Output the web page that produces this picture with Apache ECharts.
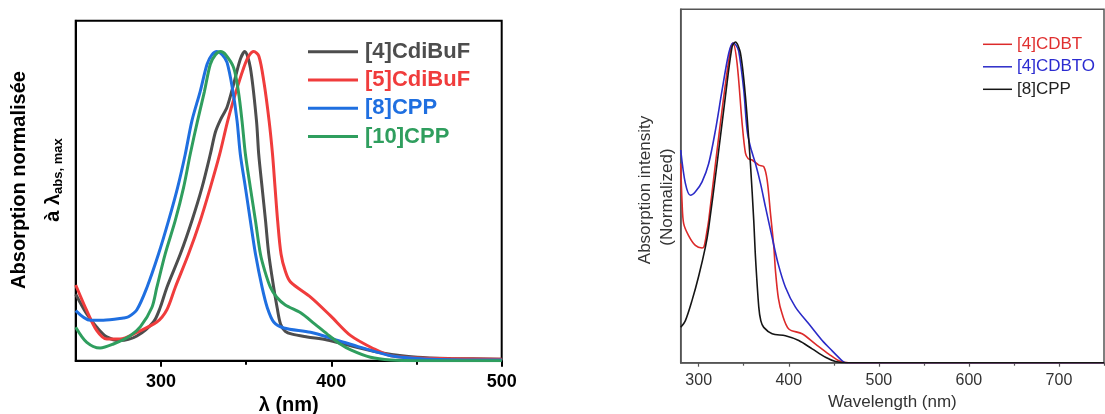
<!DOCTYPE html>
<html><head><meta charset="utf-8">
<script src="https://cdn.jsdelivr.net/npm/echarts@6/dist/echarts.min.js"></script>
<style>html,body{margin:0;padding:0;background:#fff}#c{width:1105px;height:414px}</style>
</head><body><div id="c"></div>
<script>
// ---- Left panel data (wavelength nm, normalized absorption) ----
const leftNames = ['[4]CdiBuF', '[5]CdiBuF', '[8]CPP', '[10]CPP'];
const leftTicks = [300, 400, 500];
const leftMinorTicks = [350, 450];
const cdibuf4 = [[250,0.215],[256.5,0.151],[262.4,0.108],[268.2,0.077],[276,0.065],[285.9,0.08],[295.6,0.125],[299.6,0.172],[303.5,0.237],[311.4,0.345],[318.2,0.453],[324.1,0.56],[329,0.668],[332,0.74],[335,0.78],[338.8,0.82],[342.7,0.895],[346.6,0.975],[349.2,1.0],[352.5,0.948],[356.1,0.776],[357.4,0.668],[359.4,0.56],[361.4,0.453],[363.3,0.345],[366.2,0.237],[368.2,0.172],[370.2,0.119],[373,0.095],[377,0.086],[385.9,0.077],[397.6,0.067],[411.4,0.048],[430.9,0.024],[450.6,0.011],[470,0.007],[500,0.005]];
const cdibuf5 = [[250,0.245],[256.5,0.162],[262.4,0.097],[268.2,0.07],[276,0.07],[285.9,0.092],[297.6,0.125],[303.5,0.165],[308.4,0.237],[316.2,0.345],[323.1,0.453],[329,0.56],[334.5,0.668],[339.2,0.776],[343.5,0.86],[348.6,0.948],[351.5,0.985],[354.5,1.0],[357.5,0.985],[360.5,0.9],[363.5,0.776],[365.5,0.668],[367,0.56],[368.5,0.453],[370.5,0.345],[373,0.29],[376,0.255],[388,0.205],[399.6,0.145],[411.4,0.081],[425.1,0.038],[435,0.016],[450.6,0.009],[500,0.005]];
const cpp8 = [[250,0.162],[258.5,0.131],[266.2,0.131],[278,0.138],[281,0.142],[285.9,0.165],[291.8,0.237],[298.6,0.345],[304.5,0.453],[309.8,0.56],[314.3,0.668],[318.2,0.776],[323,0.87],[327.1,0.959],[330,0.99],[332.9,1.0],[336,0.99],[338.8,0.965],[342,0.88],[344.7,0.776],[346.6,0.668],[349.6,0.56],[352.5,0.453],[355.5,0.345],[359.4,0.237],[362.4,0.172],[366.2,0.125],[372.1,0.106],[387.8,0.092],[401.5,0.07],[417.3,0.043],[435,0.016],[450.6,0.007],[470,0.003],[500,0.002]];
const cpp10 = [[250,0.108],[256.5,0.059],[264.3,0.041],[272.1,0.054],[282,0.081],[288,0.11],[294.7,0.172],[297.6,0.237],[302.5,0.345],[308.4,0.453],[313.3,0.56],[317.2,0.668],[321.5,0.776],[325.5,0.87],[329,0.959],[332,0.99],[335,1.0],[338,0.99],[342.7,0.948],[345.5,0.87],[347.6,0.776],[349.6,0.668],[352.5,0.56],[355.5,0.453],[358.4,0.345],[361,0.29],[364.3,0.237],[368,0.205],[373,0.18],[382,0.155],[390,0.12],[397.6,0.086],[405,0.055],[411.4,0.035],[423,0.011],[435,0.002],[450,0.0],[500,0.0]];

// ---- Right panel data ----
const rightNames = ['[4]CDBT', '[4]CDBTO', '[8]CPP'];
const rightTicks = [300, 400, 500, 600, 700];
const rightMinorTicks = [350, 450, 550, 650, 750];
const cdbt4 = [[280,0.62],[281.5,0.5],[283.3,0.433],[288.9,0.395],[296.3,0.365],[303.7,0.357],[306,0.362],[309.3,0.412],[311.1,0.443],[318.6,0.62],[327.8,0.828],[335.2,0.974],[338,0.995],[342.6,0.932],[348.2,0.745],[351.9,0.652],[355,0.635],[359.3,0.631],[366.7,0.615],[372.2,0.61],[376,0.568],[379.7,0.464],[383.4,0.36],[385.2,0.287],[388.5,0.2],[392.6,0.152],[400,0.105],[414.8,0.09],[429.7,0.058],[444.4,0.027],[455.6,0.006],[466.7,0.0],[750,0.0]];
const cdbto4 = [[280,0.662],[285.2,0.558],[290.8,0.521],[296.3,0.532],[303.7,0.563],[311.1,0.62],[318.6,0.724],[326,0.849],[333.4,0.964],[338,0.995],[341,0.99],[344.4,0.97],[350,0.849],[353.7,0.724],[357.4,0.672],[363,0.62],[368.6,0.558],[374.1,0.485],[381.5,0.39],[388,0.31],[396.3,0.235],[407.4,0.173],[422.2,0.121],[437.1,0.069],[448.2,0.037],[459.3,0.006],[463,0.0],[750,0.0]];
const cpp8b = [[280,0.11],[285.2,0.131],[292.6,0.194],[300,0.27],[307.4,0.36],[311.1,0.42],[320.4,0.62],[329.6,0.828],[337.1,0.984],[340.8,0.998],[346.3,0.964],[351.9,0.828],[357.4,0.62],[361.1,0.443],[363,0.33],[366.7,0.173],[369,0.13],[372.2,0.11],[381.5,0.09],[396.3,0.084],[411.1,0.069],[426,0.043],[440.8,0.017],[451.9,0.004],[465,0.0],[750,0.0]];

const leftData = [cdibuf4, cdibuf5, cpp8, cpp10];
const leftColors = ['#4d4d4d', '#f03c3c', '#1f6fe0', '#2f9e5e'];
const rightData = [cdbt4, cdbto4, cpp8b];
const rightColors = ['#dc2a2a', '#2b2bc8', '#151515'];
const rightTextColors = ['#e03030', '#2b2bd0', '#222'];

const FF = '"Liberation Sans", Arial, sans-serif';
const chart = echarts.init(document.getElementById('c'), null, {renderer: 'canvas'});

const series = [];
leftData.forEach((d, i) => series.push({
  name: leftNames[i], type: 'line', xAxisIndex: 0, yAxisIndex: 0, data: d,
  showSymbol: false, symbol: 'none', smooth: 0.3,
  lineStyle: {width: 3, color: leftColors[i]}, itemStyle: {color: leftColors[i]}
}));
rightData.forEach((d, i) => series.push({
  name: rightNames[i], type: 'line', xAxisIndex: 2, yAxisIndex: 1, data: d,
  showSymbol: false, symbol: 'none', smooth: 0.3,
  lineStyle: {width: 1.6, color: rightColors[i]}, itemStyle: {color: rightColors[i]}
}));

chart.setOption({
  animation: false,
  grid: [
    {left: 75.7, top: 20.7, right: 603.3, bottom: 53.3, outerBoundsMode: 'none', containLabel: false,
     show: true, borderColor: '#000', borderWidth: 2, backgroundColor: 'transparent'},
    {left: 680.7, top: 9.3, right: 1, bottom: 51.3, outerBoundsMode: 'none', containLabel: false,
     show: true, borderColor: '#555', borderWidth: 1.5, backgroundColor: 'transparent'}
  ],
  xAxis: [
    {type: 'value', gridIndex: 0, position: 'bottom', min: 250, max: 500, interval: 50,
     name: 'λ (nm)', nameLocation: 'middle', nameGap: 32,
     nameTextStyle: {fontFamily: FF, fontWeight: 'bold', fontSize: 20, color: '#000', verticalAlign: 'top'},
     axisLine: {show: true, onZero: false, lineStyle: {color: '#000', width: 2}},
     axisTick: {show: true, inside: false, length: 6, lineStyle: {color: '#000', width: 2}, customValues: leftTicks},
     axisLabel: {show: true, margin: 12, fontFamily: FF, fontWeight: 'bold', fontSize: 18, color: '#000', customValues: leftTicks},
     splitLine: {show: false}},
    {type: 'value', gridIndex: 0, position: 'bottom', offset: 0, min: 250, max: 500, interval: 50,
     axisLine: {show: false, onZero: false},
     axisTick: {show: true, inside: false, length: 4, lineStyle: {color: '#000', width: 2}, customValues: leftMinorTicks},
     axisLabel: {show: false}, splitLine: {show: false}},
    {type: 'value', gridIndex: 1, position: 'bottom', min: 280, max: 750, interval: 10,
     name: 'Wavelength (nm)', nameLocation: 'middle', nameGap: 29,
     nameTextStyle: {fontFamily: FF, fontSize: 17, color: '#333', verticalAlign: 'top'},
     axisLine: {show: true, onZero: false, lineStyle: {color: '#555', width: 1.5}},
     axisTick: {show: true, inside: false, length: 4, lineStyle: {color: '#555', width: 1.2}, customValues: rightTicks},
     axisLabel: {show: true, margin: 10, fontFamily: FF, fontSize: 16, color: '#333', customValues: rightTicks},
     splitLine: {show: false}},
    {type: 'value', gridIndex: 1, position: 'bottom', offset: 0, min: 280, max: 750, interval: 10,
     axisLine: {show: false, onZero: false},
     axisTick: {show: true, inside: false, length: 3, lineStyle: {color: '#555', width: 1.2}, customValues: rightMinorTicks},
     axisLabel: {show: false}, splitLine: {show: false}}
  ],
  yAxis: [
    {type: 'value', gridIndex: 0, min: 0, max: 1.1,
     axisLine: {show: true, onZero: false, lineStyle: {color: '#000', width: 2}},
     axisTick: {show: false}, axisLabel: {show: false}, splitLine: {show: false}},
    {type: 'value', gridIndex: 1, min: 0, max: 1.1,
     axisLine: {show: true, onZero: false, lineStyle: {color: '#555', width: 1.5}},
     axisTick: {show: false}, axisLabel: {show: false}, splitLine: {show: false}}
  ],
  legend: [
    {orient: 'vertical', left: 308, top: 39.7, padding: 0, itemWidth: 50, itemHeight: 3, itemGap: 4.3, icon: 'rect',
     selectedMode: false,
     textStyle: {fontFamily: FF, fontWeight: 'bold', fontSize: 22, lineHeight: 24, padding: [0, 0, 0, 2]},
     data: leftNames.map((n, i) => ({name: n, itemStyle: {color: leftColors[i]}, textStyle: {color: leftColors[i]}}))},
    {orient: 'vertical', left: 983, top: 34.3, padding: 0, itemWidth: 29, itemHeight: 1.5, itemGap: 2.5, icon: 'rect',
     selectedMode: false,
     textStyle: {fontFamily: FF, fontSize: 17, lineHeight: 20},
     data: rightNames.map((n, i) => ({name: n, itemStyle: {color: rightColors[i]}, textStyle: {color: rightTextColors[i]}}))}
  ],
  graphic: [
    {type: 'text', x: 19, y: 180, rotation: Math.PI / 2,
     style: {text: 'Absorption normalisée', font: 'bold 20px ' + FF, fill: '#000', align: 'center', verticalAlign: 'middle'}},
    {type: 'text', x: 53, y: 180, rotation: Math.PI / 2,
     style: {text: '{m|à λ}{s|abs, max}', align: 'center', verticalAlign: 'middle', fill: '#000',
       rich: {m: {font: 'bold 20px ' + FF, fill: '#000', lineHeight: 24},
              s: {font: 'bold 13px ' + FF, fill: '#000', verticalAlign: 'bottom', lineHeight: 24}}}},
    {type: 'text', x: 645, y: 190, rotation: Math.PI / 2,
     style: {text: 'Absorption intensity', font: '17px ' + FF, fill: '#333', align: 'center', verticalAlign: 'middle'}},
    {type: 'text', x: 667, y: 197, rotation: Math.PI / 2,
     style: {text: '(Normalized)', font: '17px ' + FF, fill: '#333', align: 'center', verticalAlign: 'middle'}}
  ],
  series: series
});
</script>
</body></html>
